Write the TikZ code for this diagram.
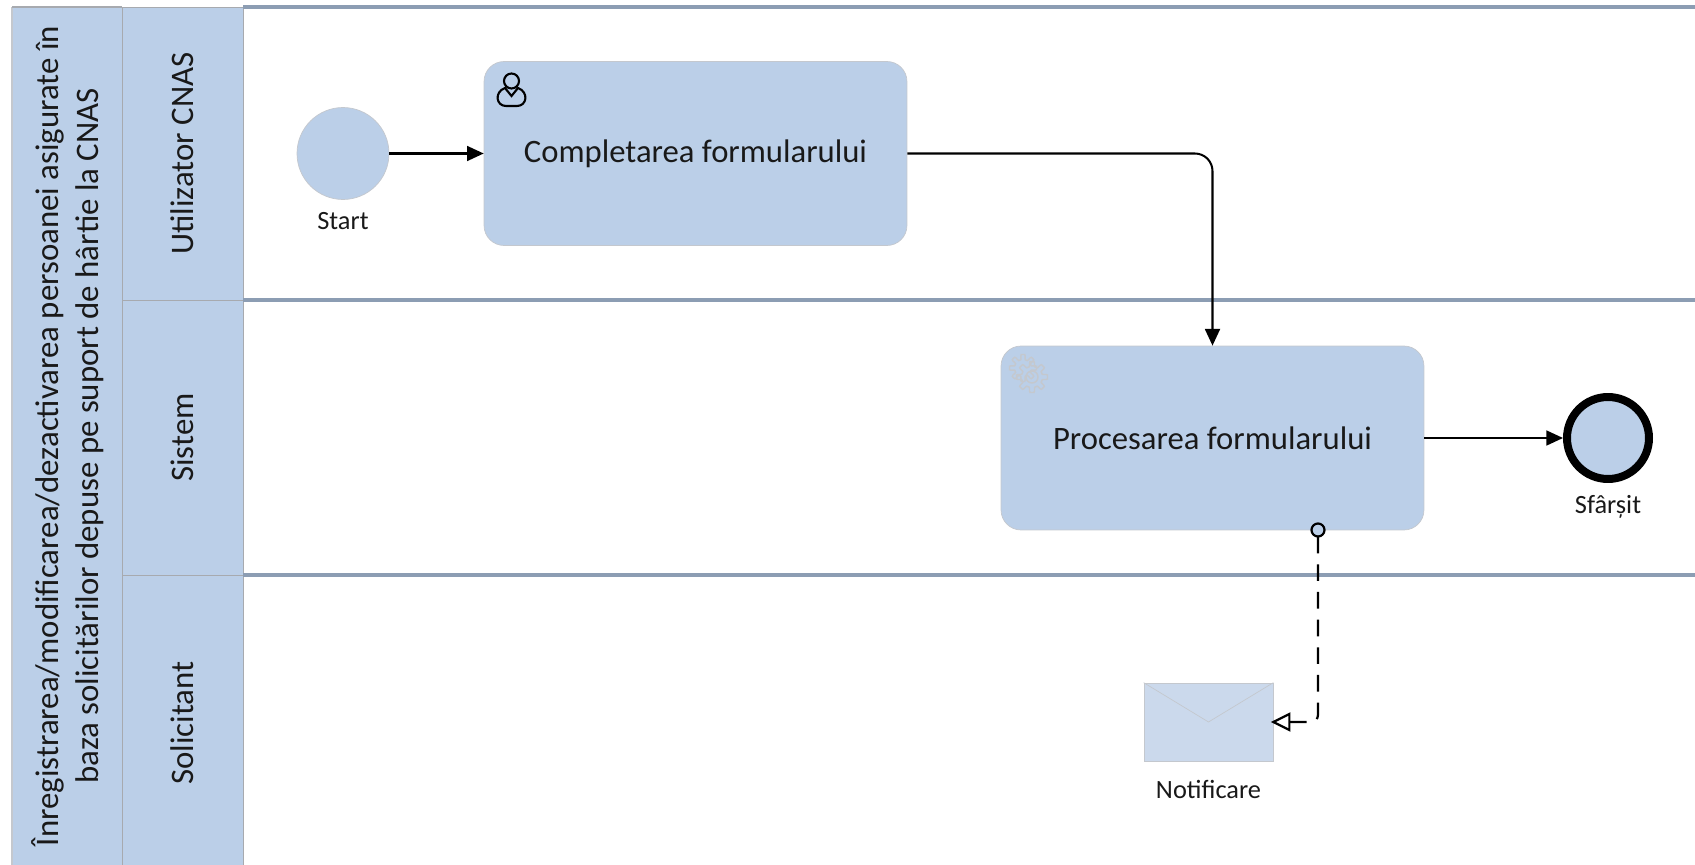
\documentclass[tikz,border=0pt]{standalone}
\usepackage{fontspec}
\setmainfont{Carlito}
\usetikzlibrary{arrows.meta}
\definecolor{bpmnblue}{HTML}{BBCFE8}
\definecolor{msgblue}{HTML}{CBD9EC}
\definecolor{laneblue}{HTML}{8C9DB3}
\definecolor{edgegrey}{HTML}{C4C8CE}

\begin{document}
\begin{tikzpicture}[x=0.02cm,y=-0.02cm]
\tikzstyle{every node}=[inner sep=0pt,text=black!90];
\tikzstyle{lanehead}=[draw=edgegrey!85!black,fill=bpmnblue,rotate=90,minimum height=2.42cm,font=\fontsize{18.7}{22}\selectfont];
\tikzstyle{task}=[draw=edgegrey,fill=bpmnblue,rounded corners=0.4cm,minimum width=8.46cm,minimum height=3.68cm,font=\fontsize{18.6}{22}\selectfont];
\tikzstyle{event}=[draw=edgegrey,fill=bpmnblue,shape=circle,minimum size=1.84cm];
\tikzstyle{endevent}=[draw=black,line width=0.16cm,fill=bpmnblue,shape=circle,minimum size=1.64cm];
\tikzstyle{caption}=[font=\fontsize{15}{18}\selectfont];
\tikzstyle{flow}=[line width=1.15pt,-{Triangle[length=9.5pt,width=8.5pt]}];
\tikzstyle{msgflow}=[line width=1.25pt,dash pattern=on 9.5pt off 6.25pt,dash phase=12pt,rounded corners=4pt];
\useasboundingbox (0,0) rectangle (1695,865);

% pool and lanes
\fill[bpmnblue] (12,7) rectangle (243,865);
\draw[edgegrey,line width=1.4pt] (12,865) -- (12,7);
\draw[edgegrey!85!black,line width=1pt] (12,7) -- (122,7);
\node[lanehead,minimum width=5.86cm] (lane1) at (182.5,153.5) {Utilizator CNAS};
\node[lanehead,minimum width=5.5cm] (lane2) at (182.5,437.5) {Sistem};
\node[lanehead,minimum width=5.8cm] (lane3) at (182.5,720) {\hspace*{-3.4pt}Solicitant};
\node[rotate=90,align=center,font=\fontsize{18.7}{22.7}\selectfont] (pool) at (68,436) {Înregistrarea/modificarea/dezactivarea persoanei asigurate în\\baza solicitărilor depuse pe suport de hârtie la CNAS};
\foreach \ypos in {7,300,575}
    \draw[laneblue,line width=2pt] (243,\ypos) -- (1695,\ypos);

% flow objects
\node[event] (start) at (343,153.5) {};
\node[caption] (startlabel) at (343,221) {Start};
\node[task] (fill) at (695.5,153.5) {\raisebox{-1.5pt}{Completarea formularului}};
\node[task] (proc) at (1212.5,438) {Procesarea formularului};
\node[endevent] (stop) at (1608,438) {};
\node[caption] (stoplabel) at (1608,507) {Sfârșit};
\node[draw=edgegrey,fill=msgblue,minimum width=2.58cm,minimum height=1.56cm] (notif) at (1208.5,722) {};
\node[caption] (notiflabel) at (1208.5,789) {Notificare};
\draw[edgegrey] (notif.north west) -- (notif.center) -- (notif.north east);

% user icon
\draw[line width=1.2pt] (511.5,81) circle (7.5);
\draw[line width=1.2pt] (505,88) .. controls (494,92) and (496,106) .. (506,106) -- (517,106) .. controls (527,106) and (529,92) .. (518,88) -- (511.5,96) -- cycle;

% gear icon
\foreach \xpos/\ypos/\rad in {1023/368/11,1032/377/13}
    \draw[edgegrey,line width=0.8pt] plot[domain=0:360,samples=145,shift={(\xpos,\ypos)}] (\x:{\rad+2.5*min(1,max(-1,3*cos(8*\x)))}) -- cycle;
\draw[edgegrey,line width=0.8pt] (1032,377) circle (6);

% connectors
\coordinate (msgout) at (1318,530);
\draw[flow] (start) -- (fill);
\draw[flow,rounded corners=10pt] (fill.east) -- (fill.east -| proc.north) -- (proc.north);
\draw[flow] (proc) -- (stop);
\draw[msgflow] (msgout) -- (msgout |- notif.east) -- (notif.east);
\draw[line width=1.25pt,fill=bpmnblue] (msgout) circle (6.5);
\draw[line width=1.25pt,fill=white] (notif.east) -- ++(16,-8) -- ++(0,16) -- cycle;
\end{tikzpicture}
\end{document}
